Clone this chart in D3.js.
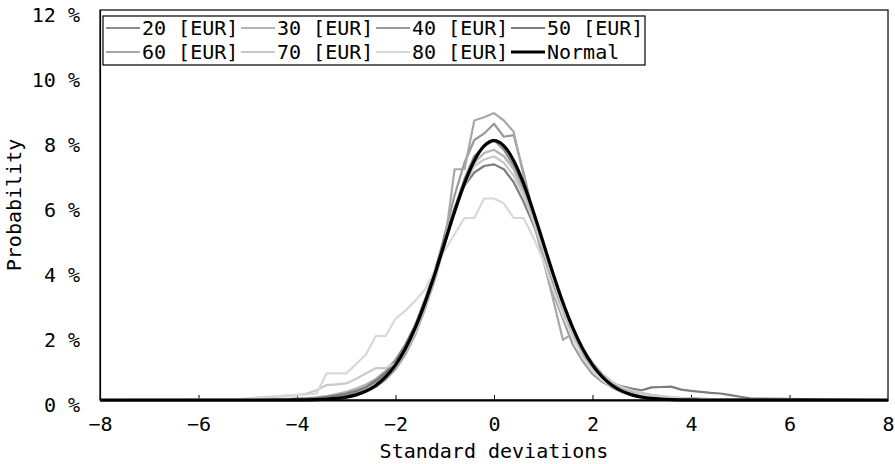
<!DOCTYPE html>
<html>
<head>
<meta charset="utf-8">
<script src="https://d3js.org/d3.v7.min.js"></script>
<style>
  body { margin: 0; background: #fff; }
  text { font-family: "DejaVu Sans Mono", monospace; }
</style>
</head>
<body>
<svg width="895" height="464"></svg>
<script>
// standard deviations (bin centres)
const xs = [-8,
  -5.2, -5.0, -4.8, -4.6, -4.4, -4.2,
  -4.0, -3.8, -3.6, -3.4, -3.2, -3.0, -2.8, -2.6, -2.4, -2.2,
  -2.0, -1.8, -1.6, -1.4, -1.2, -1.0, -0.8, -0.6, -0.4, -0.2,
  0,
  0.2, 0.4, 0.6, 0.8, 1.0, 1.2, 1.4, 1.6, 1.8, 2.0,
  2.2, 2.4, 2.6, 2.8, 3.0, 3.2, 3.4, 3.6, 3.8, 4.0,
  4.2, 4.4, 4.6, 4.8, 5.0, 5.2,
  8];

// probability in %
const eur20 = [0,
  0, 0, 0.01, 0.01, 0.02, 0.02,
  0.03, 0.04, 0.06, 0.08, 0.12, 0.18, 0.26, 0.38, 0.55, 0.8,
  1.15, 1.6, 2.2, 2.95, 3.8, 4.8, 5.9, 6.8, 7.5, 7.8,
  8.0,
  7.7, 7.2, 6.5, 5.6, 4.6, 3.6, 2.7, 1.95, 1.4, 0.95,
  0.65, 0.45, 0.32, 0.24, 0.18, 0.12, 0.09, 0.06, 0.05, 0.04,
  0.03, 0.02, 0.02, 0.01, 0.01, 0,
  0];
const eur30 = [0,
  0, 0.01, 0.01, 0.01, 0.02, 0.02,
  0.03, 0.05, 0.08, 0.12, 0.18, 0.25, 0.35, 0.48, 0.65, 0.9,
  1.25, 1.7, 2.3, 3.0, 3.9, 4.9, 5.8, 6.7, 7.3, 7.6,
  7.7,
  7.5, 7.1, 6.4, 5.6, 4.7, 3.8, 2.9, 2.2, 1.6, 1.15,
  0.8, 0.55, 0.38, 0.27, 0.2, 0.15, 0.11, 0.08, 0.06, 0.05,
  0.04, 0.03, 0.02, 0.01, 0.01, 0,
  0];
const eur40 = [0,
  0, 0, 0.01, 0.01, 0.01, 0.02,
  0.02, 0.03, 0.04, 0.06, 0.1, 0.15, 0.22, 0.3, 0.45, 0.65,
  0.95, 1.4, 2.05, 2.9, 3.9, 5.1, 6.3, 7.3, 8.0, 8.2,
  8.5,
  8.1, 8.15, 7.0, 5.7, 4.4, 3.3, 2.5, 1.7, 1.2, 0.8,
  0.55, 0.4, 0.28, 0.2, 0.14, 0.1, 0.08, 0.06, 0.05, 0.04,
  0.03, 0.02, 0.02, 0.01, 0.01, 0,
  0];
const eur50 = [0,
  0, 0.01, 0.01, 0.02, 0.02, 0.03,
  0.04, 0.05, 0.07, 0.1, 0.14, 0.2, 0.28, 0.4, 0.6, 0.85,
  1.2, 1.7, 2.3, 3.1, 4.0, 5.0, 5.9, 6.6, 7.0, 7.2,
  7.25,
  7.1, 6.7, 6.1, 5.4, 4.6, 3.7, 2.9, 2.15, 1.55, 1.05,
  0.72, 0.5, 0.42, 0.35, 0.3, 0.39, 0.4, 0.41, 0.32, 0.28,
  0.25, 0.22, 0.2, 0.15, 0.1, 0.05,
  0];
const eur60 = [0,
  0, 0, 0, 0.01, 0.01, 0.01,
  0.02, 0.02, 0.03, 0.05, 0.07, 0.1, 0.15, 0.25, 0.4, 0.62,
  0.95, 1.4, 2.0, 2.8, 3.7, 4.8, 7.1, 7.1, 8.6, 8.7,
  8.83,
  8.6, 8.25, 6.9, 5.5, 4.3, 3.1, 1.85, 2.05, 1.4, 0.95,
  0.6, 0.38, 0.24, 0.15, 0.1, 0.07, 0.05, 0.04, 0.03, 0.02,
  0.01, 0.01, 0, 0, 0, 0,
  0];
const eur70 = [0,
  0.02, 0.03, 0.05, 0.07, 0.1, 0.12,
  0.15, 0.2, 0.3, 0.46, 0.48, 0.51, 0.65, 0.82, 0.98, 0.98,
  1.13, 1.5, 2.06, 2.9, 3.8, 4.8, 5.8, 6.6, 7.2, 7.4,
  7.5,
  7.3, 6.9, 6.3, 5.5, 4.6, 3.7, 2.8, 2.1, 1.5, 1.05,
  0.75, 0.55, 0.4, 0.3, 0.22, 0.16, 0.12, 0.09, 0.06, 0.04,
  0.03, 0.02, 0.01, 0.01, 0, 0,
  0];
const eur80 = [0,
  0.02, 0.05, 0.08, 0.1, 0.12, 0.14,
  0.15, 0.17, 0.2, 0.82, 0.82, 0.82, 1.1, 1.4, 1.97, 1.97,
  2.5, 2.75, 3.05, 3.4, 4.0, 4.6, 5.1, 5.6, 5.6, 6.2,
  6.2,
  6.05, 5.6, 5.6, 5.0, 4.3, 3.4, 2.6, 1.9, 1.3, 0.9,
  0.6, 0.42, 0.3, 0.2, 0.15, 0.1, 0.08, 0.06, 0.04, 0.03,
  0.02, 0.01, 0.01, 0, 0, 0,
  0];
const normal = [0,
  0, 0, 0, 0, 0, 0,
  0.003, 0.006, 0.012, 0.025, 0.048, 0.089, 0.158, 0.272, 0.448, 0.710,
  1.080, 1.579, 2.219, 2.995, 3.884, 4.839, 5.794, 6.664, 7.365, 7.821,
  7.979,
  7.821, 7.365, 6.664, 5.794, 4.839, 3.884, 2.995, 2.219, 1.579, 1.080,
  0.710, 0.448, 0.272, 0.158, 0.089, 0.048, 0.025, 0.012, 0.006, 0.003,
  0, 0, 0, 0, 0, 0,
  0];

const seriesNames = ["20 [EUR]", "30 [EUR]", "40 [EUR]", "50 [EUR]",
                     "60 [EUR]", "70 [EUR]", "80 [EUR]", "Normal"];
const seriesValues = [eur20, eur30, eur40, eur50, eur60, eur70, eur80, normal];
const seriesColors = ["#8a8a8a", "#b4b4b4", "#999999", "#7c7c7c",
                      "#a8a8a8", "#c8c8c8", "#d8d8d8", "#000000"];

const xTicks = [-8, -6, -4, -2, 0, 2, 4, 6, 8];
const yTicks = [0, 2, 4, 6, 8, 10, 12];

let svg = d3.select("svg"),
    plotL = 100, plotR = 888, plotT = 10, plotB = 400;

let xScale = d3.scaleLinear().domain([-8, 8]).range([plotL, plotR]);
let yScale = d3.scaleLinear().domain([0, 12]).range([plotB, plotT]);

// frame
svg.append("rect")
  .attr("x", plotL).attr("y", plotT)
  .attr("width", plotR - plotL).attr("height", plotB - plotT)
  .attr("fill", "none").attr("stroke", "#000").attr("stroke-width", 1.2);

// x axis
let xAxis = svg.append("g")
  .attr("transform", "translate(0," + plotB + ")")
  .call(d3.axisBottom(xScale).tickValues(xTicks).tickSizeInner(-5).tickSizeOuter(0).tickPadding(17));
xAxis.select(".domain").attr("stroke-width", 2.2);
xAxis.selectAll("text").attr("font-size", 20).attr("fill", "#000")
  .attr("font-family", "DejaVu Sans Mono, monospace");
xAxis.selectAll(".tick line").filter(d => d === -8 || d === 8).remove();

// y axis
let yAxis = svg.append("g")
  .attr("transform", "translate(" + plotL + ",0)")
  .call(d3.axisLeft(yScale).tickValues(yTicks).tickSize(0).tickPadding(20)
    .tickFormat(d => d + " %"));
yAxis.select(".domain").attr("stroke-width", 1.2);
yAxis.selectAll("text").attr("font-size", 20).attr("fill", "#000")
  .attr("dy", "0.55em")
  .attr("font-family", "DejaVu Sans Mono, monospace");

// axis titles
svg.append("text")
  .attr("x", (plotL + plotR) / 2).attr("y", 458)
  .attr("text-anchor", "middle").attr("font-size", 20)
  .text("Standard deviations");
svg.append("text")
  .attr("transform", "translate(21," + ((plotT + plotB) / 2) + ") rotate(-90)")
  .attr("text-anchor", "middle").attr("font-size", 20)
  .text("Probability");

// lines
let line = d3.line()
  .x((d, i) => xScale(xs[i]))
  .y(d => yScale(d));
let smooth = d3.line()
  .x((d, i) => xScale(xs[i]))
  .y(d => yScale(d))
  .curve(d3.curveMonotoneX);

let g = svg.append("g");
seriesValues.forEach((vals, k) => {
  let isNormal = k === seriesValues.length - 1;
  g.append("path")
    .attr("d", isNormal ? smooth(vals) : line(vals))
    .attr("fill", "none")
    .attr("stroke", seriesColors[k])
    .attr("stroke-width", isNormal ? 3.2 : 2.2)
    .attr("stroke-linejoin", "round");
});

// legend
let legend = svg.append("g");
legend.append("rect")
  .attr("x", 103).attr("y", 16).attr("width", 542).attr("height", 49)
  .attr("fill", "#fff").attr("stroke", "#000").attr("stroke-width", 1.2);
seriesNames.forEach((name, k) => {
  let col = k % 4, row = Math.floor(k / 4);
  let x0 = 106 + col * 135, y0 = 28 + row * 24;
  legend.append("line")
    .attr("x1", x0).attr("x2", x0 + 34).attr("y1", y0).attr("y2", y0)
    .attr("stroke", seriesColors[k])
    .attr("stroke-width", k === 7 ? 3.2 : 2.2);
  legend.append("text")
    .attr("x", x0 + 36).attr("y", y0 + 7)
    .attr("font-size", 20)
    .text(name);
});
</script>
</body>
</html>
